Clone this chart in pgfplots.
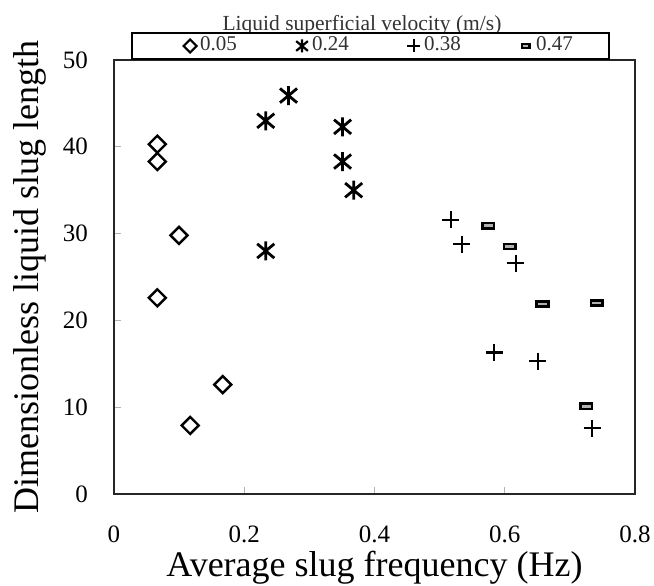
\documentclass[border=0pt]{standalone}
\usepackage{fontspec}
\setmainfont{Liberation Serif}
\usepackage{pgfplots}
\pgfplotsset{compat=1.18}

\pgfdeclareplotmark{sqdiamond}{%
 \pgfpathmoveto{\pgfqpoint{0pt}{\pgfplotmarksize}}%
 \pgfpathlineto{\pgfqpoint{\pgfplotmarksize}{0pt}}%
 \pgfpathlineto{\pgfqpoint{0pt}{-\pgfplotmarksize}}%
 \pgfpathlineto{\pgfqpoint{-\pgfplotmarksize}{0pt}}%
 \pgfpathclose\pgfusepathqstroke}
\pgfdeclareplotmark{xstar}{%
 \pgfpathmoveto{\pgfqpoint{-.9\pgfplotmarksize}{-.75\pgfplotmarksize}}%
 \pgfpathlineto{\pgfqpoint{.9\pgfplotmarksize}{.75\pgfplotmarksize}}%
 \pgfpathmoveto{\pgfqpoint{-.9\pgfplotmarksize}{.75\pgfplotmarksize}}%
 \pgfpathlineto{\pgfqpoint{.9\pgfplotmarksize}{-.75\pgfplotmarksize}}%
 \pgfpathmoveto{\pgfqpoint{0pt}{-\pgfplotmarksize}}%
 \pgfpathlineto{\pgfqpoint{0pt}{\pgfplotmarksize}}%
 \pgfusepathqstroke}
\pgfdeclareplotmark{pill}{%
 \pgfpathrectangle{\pgfqpoint{-.55\pgfplotmarksize}{-.25\pgfplotmarksize}}{\pgfqpoint{1.1\pgfplotmarksize}{.5\pgfplotmarksize}}%
 \pgfusepathqfillstroke}

\begin{document}
\begin{tikzpicture}
\begin{axis}[
  scale only axis, width=521pt, height=434pt,
  xmin=0, xmax=0.8, ymin=0, ymax=50,
  xtick={0,0.2,0.4,0.6,0.8}, ytick={0,10,20,30,40,50},
  tick align=inside, tick pos=left,
  major tick length=7pt,
  every tick/.style={gray!60, line width=1pt},
  axis line style={black!85, line width=2pt},
  /pgf/number format/assume math mode=true,
  xticklabel style={font=\fontsize{25}{28}\selectfont, anchor=base, yshift=-49pt, inner sep=0pt},
  yticklabel style={font=\fontsize{25}{28}\selectfont, anchor=east, xshift=-26pt, inner sep=0pt},
  every axis x label/.style={at={(rel axis cs:0.5,-0.191)}, anchor=base, inner sep=0pt, font=\fontsize{36}{40}\selectfont},
  every axis y label/.style={at={(rel axis cs:-0.144,0.5)}, rotate=90, anchor=base, inner sep=0pt, font=\fontsize{36}{40}\selectfont},
  xlabel={Average slug frequency (Hz)},
  ylabel={Dimensionless liquid slug length},
  clip=false,
  legend columns=4,
  legend style={at={(rel axis cs:0.0326,1)}, anchor=south west, draw=black, line width=2pt,
    font=\fontsize{21}{24}\selectfont, text=black!80, inner xsep=36pt, inner ysep=3pt,
    nodes={inner sep=0pt, text height=15pt, text depth=5pt},
    /tikz/every even column/.append style={column sep=57pt},
    /tikz/every odd column/.append style={column sep=2pt}},
  legend image code/.code={\draw[#1] plot coordinates {(7pt,0pt)}; \path (0pt,0pt) (14pt,0pt);},
  legend image post style={mark size=6.5pt, line width=2.2pt},
]
\addplot[only marks, mark=sqdiamond, mark size=8.5pt, line width=2.4pt, black,
  legend image code/.code={\draw[##1] plot coordinates {(7pt,0pt)}; \path (-14pt,0pt) (14pt,0pt);}] coordinates {
 (0.0665,40.3) (0.0665,38.3) (0.0998,29.8) (0.0665,22.6) (0.167,12.6) (0.117,7.9)};
\addlegendentry{0.05}
\addplot[only marks, mark=xstar, mark size=9.5pt, line width=2.8pt, black] coordinates {
 (0.268,45.9) (0.233,43.0) (0.351,42.3) (0.351,38.3) (0.368,35.0) (0.233,28.0)};
\addlegendentry{0.24}
\addplot[only marks, mark=+, mark size=8.5pt, line width=2.3pt, black] coordinates {
 (0.517,31.6) (0.534,28.8) (0.617,26.6) (0.584,16.3) (0.651,15.3) (0.734,7.6)};
\addlegendentry{0.38}
\addplot[only marks, mark=pill, mark size=10.5pt, line width=2.5pt, draw=black, fill=gray!60] coordinates {
 (0.575,30.9) (0.608,28.5) (0.658,21.9) (0.741,22.0) (0.725,10.1)};
\addlegendentry{0.47}
\node[anchor=base, font=\fontsize{21.5}{24}\selectfont, text=black!80, inner sep=0pt] at (rel axis cs:0.476,1.069) {Liquid superficial velocity (m/s)};
\coordinate (o) at (rel axis cs:0,0);
\end{axis}
\pgfresetboundingbox
\path[use as bounding box] ([shift={(-114pt,-92pt)}]o) rectangle ([shift={(540pt,494pt)}]o);
\end{tikzpicture}
\end{document}
